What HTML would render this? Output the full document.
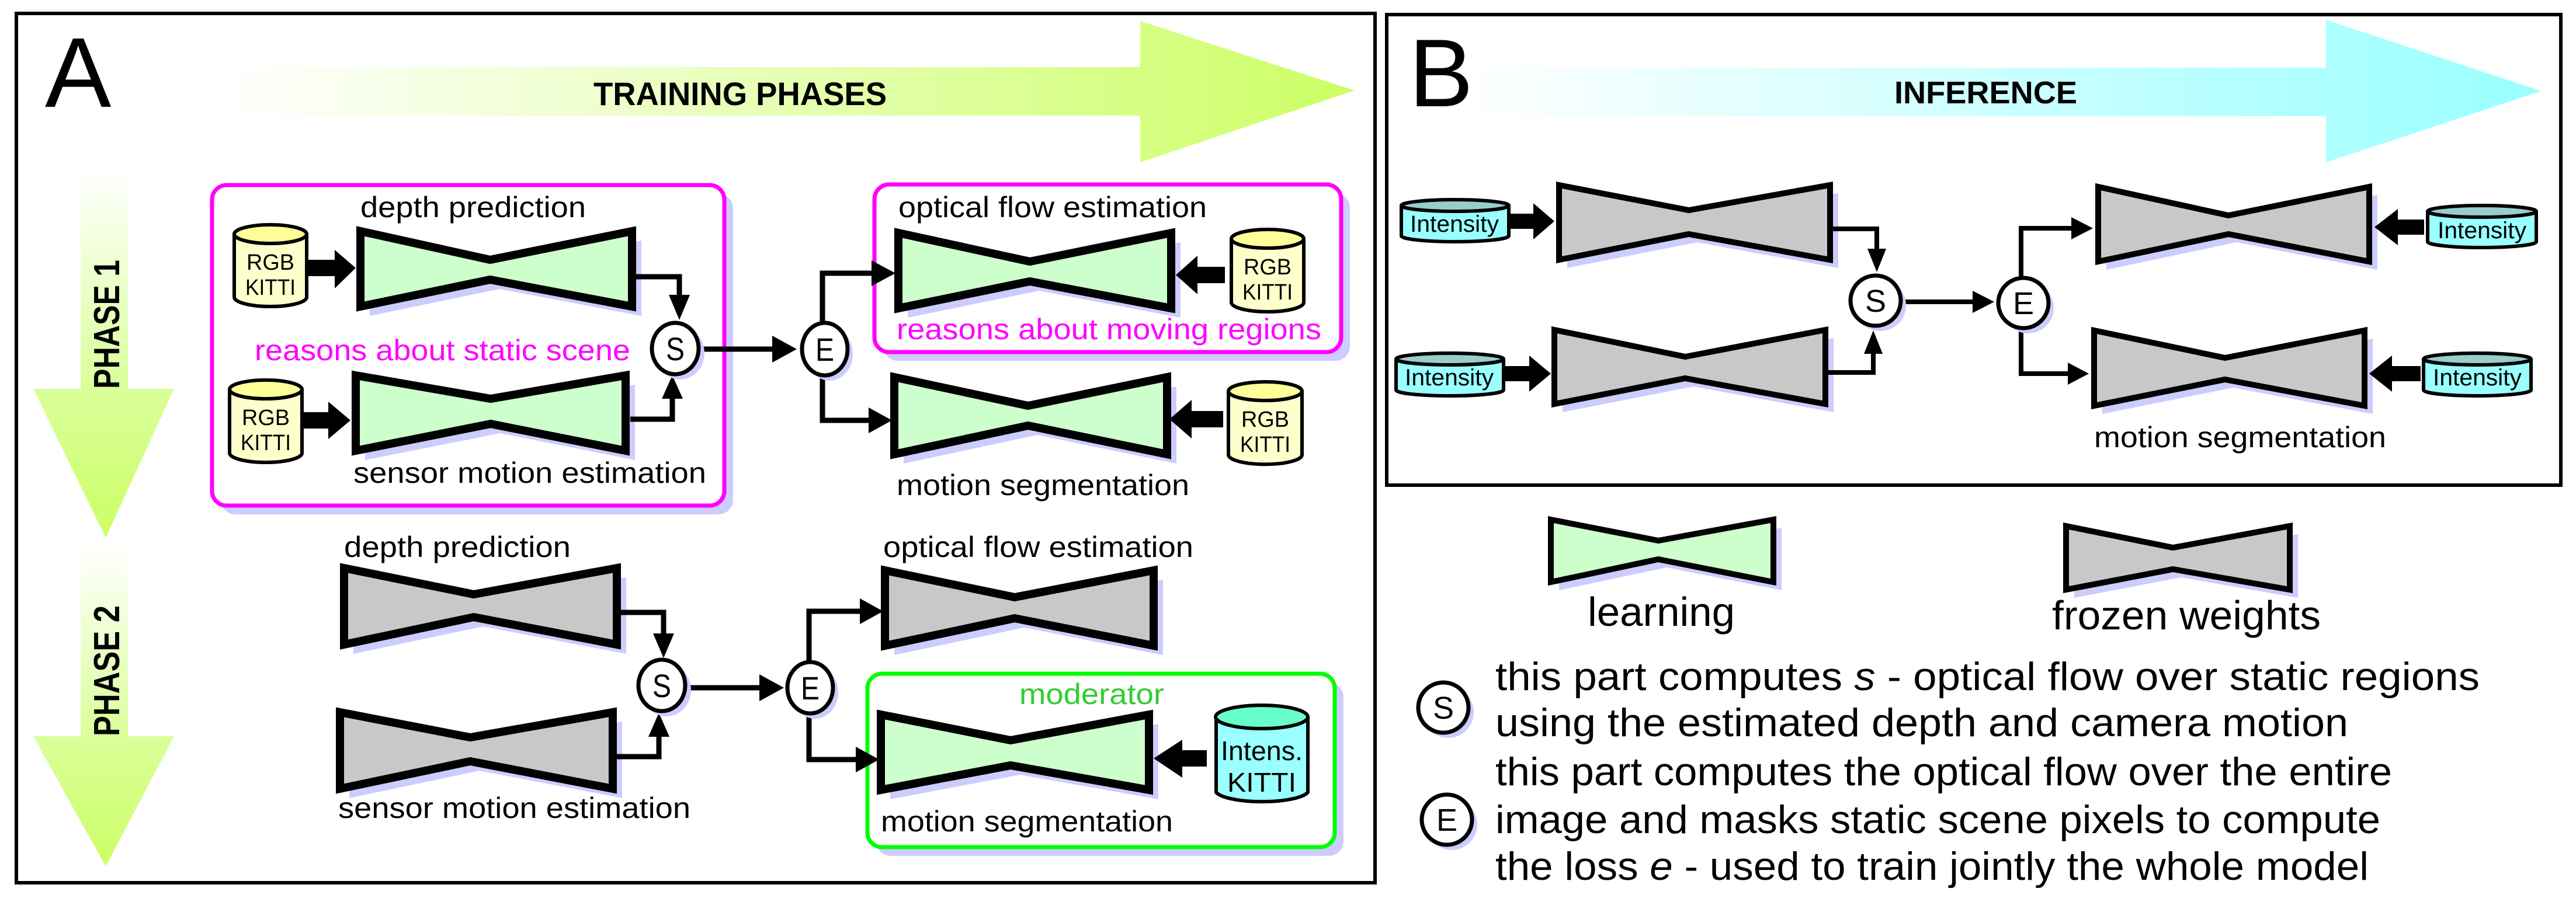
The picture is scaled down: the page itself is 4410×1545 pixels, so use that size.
<!DOCTYPE html>
<html><head><meta charset="utf-8"><style>html,body{margin:0;padding:0;background:#fff}svg{display:block}</style></head>
<body>
<svg xmlns="http://www.w3.org/2000/svg" width="4410" height="1545" viewBox="0 0 4410 1545" font-family="Liberation Sans, sans-serif">
<defs>
<linearGradient id="gT" gradientUnits="userSpaceOnUse" x1="380" y1="0" x2="2320" y2="0"><stop offset="0" stop-color="#ffffff"/><stop offset="1" stop-color="#ccff66"/></linearGradient>
<linearGradient id="gP1" gradientUnits="userSpaceOnUse" x1="0" y1="287" x2="0" y2="921"><stop offset="0" stop-color="#ffffff"/><stop offset="0.6" stop-color="#d9ff99"/><stop offset="1" stop-color="#ccff66"/></linearGradient>
<linearGradient id="gP2" gradientUnits="userSpaceOnUse" x1="0" y1="933" x2="0" y2="1484"><stop offset="0" stop-color="#ffffff"/><stop offset="0.6" stop-color="#d9ff99"/><stop offset="1" stop-color="#ccff66"/></linearGradient>
<linearGradient id="gI" gradientUnits="userSpaceOnUse" x1="2500" y1="0" x2="4350" y2="0"><stop offset="0" stop-color="#ffffff"/><stop offset="1" stop-color="#99ffff"/></linearGradient>
</defs>
<rect width="4410" height="1545" fill="#fff"/>

<!-- Panel A -->
<rect x="28" y="23" width="2326" height="1489" fill="none" stroke="#000" stroke-width="6"/>
<text x="77" y="183" font-size="170">A</text>
<polygon points="383,115 1952,115 1952,36 2319,155 1952,278 1952,198 383,198" fill="url(#gT)"/>
<text x="1016" y="180" font-size="56" font-weight="bold" textLength="502" lengthAdjust="spacingAndGlyphs">TRAINING PHASES</text>
<polygon points="138,287 219,287 219,666 298,666 181,921 57,666 138,666" fill="url(#gP1)"/>
<polygon points="138,933 219,933 219,1261 298,1261 181,1484 57,1261 138,1261" fill="url(#gP2)"/>
<text transform="translate(204,666) rotate(-90)" font-size="62" font-weight="bold" textLength="221" lengthAdjust="spacingAndGlyphs">PHASE 1</text>
<text transform="translate(204,1261) rotate(-90)" font-size="62" font-weight="bold" textLength="224" lengthAdjust="spacingAndGlyphs">PHASE 2</text>

<!-- boxes -->
<rect x="378" y="332" width="877" height="549" rx="25" fill="#ccccff"/>
<rect x="363" y="317" width="877" height="549" rx="25" fill="#fff" stroke="#ff00ff" stroke-width="7"/>
<rect x="1512" y="331" width="799" height="287" rx="25" fill="#ccccff"/>
<rect x="1497" y="316" width="799" height="287" rx="25" fill="#fff" stroke="#ff00ff" stroke-width="7"/>
<rect x="1500" y="1169" width="800" height="297" rx="25" fill="#ccccff"/>
<rect x="1485" y="1154" width="800" height="297" rx="25" fill="#fff" stroke="#00ff00" stroke-width="7"/>

<!-- A bowties -->
<g stroke-linejoin="miter">
<polygon points="633,412 855,461 1098,412 1098,541 855,495 633,541" fill="#ccccff"/>
<polygon points="617,396 839,445 1082,396 1082,525 839,479 617,525" fill="#ccffcc" stroke="#000" stroke-width="14"/>
<polygon points="625,659 856,699 1087,659 1087,788 856,742 625,788" fill="#ccccff"/>
<polygon points="609,643 840,683 1071,643 1071,772 840,726 609,772" fill="#ccffcc" stroke="#000" stroke-width="14"/>
<polygon points="1554,415 1779,464 2021,415 2021,544 1779,498 1554,544" fill="#ccccff"/>
<polygon points="1538,399 1763,448 2005,399 2005,528 1763,482 1538,528" fill="#ccffcc" stroke="#000" stroke-width="14"/>
<polygon points="1547,662 1776,711 2014,662 2014,794 1776,745 1547,794" fill="#ccccff"/>
<polygon points="1531,646 1760,695 1998,646 1998,778 1760,729 1531,778" fill="#ccffcc" stroke="#000" stroke-width="14"/>
<polygon points="605,989 827,1034 1072,989 1072,1120 827,1073 605,1120" fill="#ccccff"/>
<polygon points="589,973 811,1018 1056,973 1056,1104 811,1057 589,1104" fill="#c8c8c8" stroke="#000" stroke-width="14"/>
<polygon points="598,1236 821,1279 1065,1236 1065,1367 821,1320 598,1367" fill="#ccccff"/>
<polygon points="582,1220 805,1263 1049,1220 1049,1351 805,1304 582,1351" fill="#c8c8c8" stroke="#000" stroke-width="14"/>
<polygon points="1531,993 1753,1039 1991,993 1991,1122 1753,1075 1531,1122" fill="#ccccff"/>
<polygon points="1515,977 1737,1023 1975,977 1975,1106 1737,1059 1515,1106" fill="#c8c8c8" stroke="#000" stroke-width="14"/>
<polygon points="1524,1240 1746,1284 1983,1240 1983,1369 1746,1327 1524,1369" fill="#ccccff"/>
<polygon points="1508,1224 1730,1268 1967,1224 1967,1353 1730,1311 1508,1353" fill="#ccffcc" stroke="#000" stroke-width="14"/>
</g>

<!-- cylinders A -->
<g stroke="#000" stroke-width="6">
<path d="M401,401 V509 A62,16 0 0 0 525,509 V401" fill="#ffffcc"/><ellipse cx="463" cy="401" rx="62" ry="16" fill="#ffff99"/>
<path d="M393,667 V776 A62,16 0 0 0 517,776 V667" fill="#ffffcc"/><ellipse cx="455" cy="667" rx="62" ry="16" fill="#ffff99"/>
<path d="M2108,409 V518 A62,16 0 0 0 2232,518 V409" fill="#ffffcc"/><ellipse cx="2170" cy="409" rx="62" ry="16" fill="#ffff99"/>
<path d="M2103,670 V779 A62,16 0 0 0 2229,779 V670" fill="#ffffcc"/><ellipse cx="2166" cy="670" rx="63" ry="16" fill="#ffff99"/>
<path d="M2082,1228 V1357 A80,20 0 0 0 2239,1357 V1228" fill="#99ffff"/><ellipse cx="2160" cy="1228" rx="79" ry="20" fill="#66ffcc"/>
</g>
<g font-size="38" text-anchor="middle">
<text x="463" y="462" textLength="82" lengthAdjust="spacingAndGlyphs">RGB</text><text x="463" y="505" textLength="86" lengthAdjust="spacingAndGlyphs">KITTI</text>
<text x="455" y="728" textLength="82" lengthAdjust="spacingAndGlyphs">RGB</text><text x="455" y="771" textLength="86" lengthAdjust="spacingAndGlyphs">KITTI</text>
<text x="2170" y="470" textLength="82" lengthAdjust="spacingAndGlyphs">RGB</text><text x="2170" y="513" textLength="86" lengthAdjust="spacingAndGlyphs">KITTI</text>
<text x="2166" y="731" textLength="82" lengthAdjust="spacingAndGlyphs">RGB</text><text x="2166" y="774" textLength="86" lengthAdjust="spacingAndGlyphs">KITTI</text>
<text x="2160" y="1302" font-size="46" textLength="140" lengthAdjust="spacingAndGlyphs">Intens.</text><text x="2160" y="1356" font-size="46" textLength="118" lengthAdjust="spacingAndGlyphs">KITTI</text>
</g>

<!-- thick arrows A -->
<g fill="#000">
<polygon points="528,445 573,445 573,428 609,459 573,494 573,473 528,473"/>
<polygon points="520,706 562,706 562,688 600,720 562,752 562,734 520,734"/>
<polygon points="2097,457 2050,457 2050,438 2013,471 2050,504 2050,485 2097,485"/>
<polygon points="2094,704 2040,704 2040,685 2002,718 2040,751 2040,732 2094,732"/>
<polygon points="2066,1285 2024,1285 2024,1267 1975,1299 2024,1332 2024,1313 2066,1313"/>
</g>

<!-- connectors A -->
<g fill="none" stroke="#000" stroke-width="9">
<path d="M1082,474 H1163 V510"/><path d="M1079,718 H1151 V683"/><path d="M1200,598 H1325"/>
<path d="M1408,552 V468 H1495"/><path d="M1408,645 V720 H1490"/>
<path d="M1056,1049 H1136 V1085"/><path d="M1049,1296 H1128 V1262"/><path d="M1180,1178 H1305"/>
<path d="M1385,1133 V1047 H1475"/><path d="M1385,1223 V1301 H1468"/>
</g>
<g fill="#000">
<polygon points="1145,505 1181,505 1163,548"/><polygon points="1133,683 1169,683 1151,643"/>
<polygon points="1322,575 1322,621 1364,598"/><polygon points="1492,446 1492,490 1533,468"/>
<polygon points="1487,698 1487,742 1527,720"/>
<polygon points="1118,1085 1154,1085 1136,1127"/><polygon points="1110,1262 1146,1262 1128,1221"/>
<polygon points="1300,1155 1300,1201 1342,1178"/><polygon points="1472,1025 1472,1069 1512,1047"/>
<polygon points="1465,1279 1465,1323 1505,1301"/>
</g>
<!-- S/E circles A -->
<g stroke-width="7">
<ellipse cx="1164" cy="605" rx="42" ry="45" fill="#ccccff"/><ellipse cx="1156" cy="597" rx="40" ry="44" fill="#fff" stroke="#000"/>
<ellipse cx="1420" cy="606" rx="40" ry="46" fill="#ccccff"/><ellipse cx="1412" cy="598" rx="39" ry="45" fill="#fff" stroke="#000"/>
<ellipse cx="1141" cy="1182" rx="42" ry="45" fill="#ccccff"/><ellipse cx="1133" cy="1174" rx="40" ry="44" fill="#fff" stroke="#000"/>
<ellipse cx="1395" cy="1186" rx="40" ry="45" fill="#ccccff"/><ellipse cx="1387" cy="1178" rx="39" ry="44" fill="#fff" stroke="#000"/>
</g>
<g font-size="56" text-anchor="middle">
<text x="1156" y="617" textLength="32" lengthAdjust="spacingAndGlyphs">S</text><text x="1412" y="618" textLength="32" lengthAdjust="spacingAndGlyphs">E</text>
<text x="1133" y="1194" textLength="32" lengthAdjust="spacingAndGlyphs">S</text><text x="1387" y="1198" textLength="32" lengthAdjust="spacingAndGlyphs">E</text>
</g>

<!-- labels A -->
<g font-size="50" lengthAdjust="spacingAndGlyphs">
<text x="617" y="372" textLength="386" lengthAdjust="spacingAndGlyphs">depth prediction</text>
<text x="605" y="827" textLength="604" lengthAdjust="spacingAndGlyphs">sensor motion estimation</text>
<text x="436" y="617" fill="#ff00ff" textLength="643" lengthAdjust="spacingAndGlyphs">reasons about static scene</text>
<text x="1538" y="372" textLength="528" lengthAdjust="spacingAndGlyphs">optical flow estimation</text>
<text x="1535" y="581" fill="#ff00ff" textLength="727" lengthAdjust="spacingAndGlyphs">reasons about moving regions</text>
<text x="1535" y="848" textLength="501" lengthAdjust="spacingAndGlyphs">motion segmentation</text>
<text x="589" y="954" textLength="388" lengthAdjust="spacingAndGlyphs">depth prediction</text>
<text x="1512" y="954" textLength="531" lengthAdjust="spacingAndGlyphs">optical flow estimation</text>
<text x="579" y="1401" textLength="603" lengthAdjust="spacingAndGlyphs">sensor motion estimation</text>
<text x="1745" y="1206" fill="#33cc33" textLength="248" lengthAdjust="spacingAndGlyphs">moderator</text>
<text x="1508" y="1424" textLength="500" lengthAdjust="spacingAndGlyphs">motion segmentation</text>
</g>

<!-- Panel B -->
<rect x="2374" y="25" width="2010" height="806" fill="none" stroke="#000" stroke-width="6"/>
<polygon points="2508,116 3982,116 3982,34 4350,156 3982,278 3982,199 2508,199" fill="url(#gI)"/>
<text x="2412" y="182" font-size="165">B</text>
<text x="3243" y="177" font-size="54" font-weight="bold" textLength="313" lengthAdjust="spacingAndGlyphs">INFERENCE</text>

<g>
<polygon points="2683,331 2905,374 3147,331 3147,459 2905,415 2683,459" fill="#ccccff"/>
<polygon points="2669,317 2891,360 3133,317 3133,445 2891,401 2669,445" fill="#c8c8c8" stroke="#000" stroke-width="10"/>
<polygon points="2675,579 2899,625 3139,579 3139,706 2899,662 2675,706" fill="#ccccff"/>
<polygon points="2661,565 2885,611 3125,565 3125,692 2885,648 2661,692" fill="#c8c8c8" stroke="#000" stroke-width="10"/>
<polygon points="3606,334 3829,383 4070,334 4070,462 3829,415 3606,462" fill="#ccccff"/>
<polygon points="3592,320 3815,369 4056,320 4056,448 3815,401 3592,448" fill="#c8c8c8" stroke="#000" stroke-width="10"/>
<polygon points="3599,580 3823,627 4062,580 4062,709 3823,664 3599,709" fill="#ccccff"/>
<polygon points="3585,566 3809,613 4048,566 4048,695 3809,650 3585,695" fill="#c8c8c8" stroke="#000" stroke-width="10"/>
<polygon points="2669,904 2853,940 3050,904 3050,1011 2853,972 2669,1011" fill="#ccccff"/>
<polygon points="2655,890 2839,926 3036,890 3036,997 2839,958 2655,997" fill="#ccffcc" stroke="#000" stroke-width="10"/>
<polygon points="3551,915 3734,952 3934,915 3934,1024 3734,989 3551,1024" fill="#ccccff"/>
<polygon points="3537,901 3720,938 3920,901 3920,1010 3720,975 3537,1010" fill="#c8c8c8" stroke="#000" stroke-width="10"/>
</g>
<g stroke="#000" stroke-width="6">
<path d="M2399,352 V404 A92,10 0 0 0 2583,404 V352" fill="#99ffff"/><ellipse cx="2491" cy="352" rx="92" ry="10" fill="#99cccc"/>
<path d="M2390,615 V668 A92,10 0 0 0 2574,668 V615" fill="#99ffff"/><ellipse cx="2482" cy="615" rx="92" ry="10" fill="#99cccc"/>
<path d="M4156,362 V414 A93,10 0 0 0 4342,414 V362" fill="#99ffff"/><ellipse cx="4249" cy="362" rx="93" ry="10" fill="#99cccc"/>
<path d="M4149,615 V668 A92,10 0 0 0 4333,668 V615" fill="#99ffff"/><ellipse cx="4241" cy="615" rx="92" ry="10" fill="#99cccc"/>
</g>
<g font-size="40" text-anchor="middle">
<text x="2490" y="397" textLength="152" lengthAdjust="spacingAndGlyphs">Intensity</text>
<text x="2481" y="660" textLength="152" lengthAdjust="spacingAndGlyphs">Intensity</text>
<text x="4249" y="408" textLength="152" lengthAdjust="spacingAndGlyphs">Intensity</text>
<text x="4241" y="660" textLength="152" lengthAdjust="spacingAndGlyphs">Intensity</text>
</g>
<g fill="#000">
<polygon points="2584,366 2625,366 2625,348 2661,379 2625,410 2625,392 2584,392"/>
<polygon points="2576,627 2618,627 2618,609 2655,640 2618,671 2618,653 2576,653"/>
<polygon points="4150,376 4105,376 4105,358 4065,389 4105,420 4105,402 4150,402"/>
<polygon points="4144,627 4095,627 4095,609 4056,640 4095,671 4095,653 4144,653"/>
</g>
<g fill="none" stroke="#000" stroke-width="8">
<path d="M3133,392 H3213 V430"/><path d="M3128,638 H3207 V602"/><path d="M3258,517 H3380"/>
<path d="M3460,473 V391 H3550"/><path d="M3460,565 V640 H3543"/>
</g>
<g fill="#000">
<polygon points="3197,426 3229,426 3213,466"/><polygon points="3191,606 3223,606 3207,566"/>
<polygon points="3377,498 3377,536 3414,517"/><polygon points="3546,372 3546,410 3583,391"/>
<polygon points="3540,621 3540,659 3576,640"/>
</g>
<g stroke-width="7">
<circle cx="3219" cy="523" r="44" fill="#ccccff"/><circle cx="3211" cy="515" r="43" fill="#fff" stroke="#000"/>
<circle cx="3472" cy="527" r="44" fill="#ccccff"/><circle cx="3464" cy="519" r="43" fill="#fff" stroke="#000"/>
<circle cx="2479" cy="1220" r="44" fill="#ccccff"/><circle cx="2471" cy="1212" r="43" fill="#fff" stroke="#000"/>
<circle cx="2485" cy="1412" r="44" fill="#ccccff"/><circle cx="2477" cy="1404" r="43" fill="#fff" stroke="#000"/>
</g>
<g font-size="54" text-anchor="middle">
<text x="3211" y="534">S</text><text x="3464" y="538">E</text>
<text x="2471" y="1231">S</text><text x="2477" y="1423">E</text>
</g>
<text x="3585" y="766" font-size="50" textLength="500" lengthAdjust="spacingAndGlyphs">motion segmentation</text>
<text x="2718" y="1072" font-size="70" textLength="252" lengthAdjust="spacingAndGlyphs">learning</text>
<text x="3513" y="1078" font-size="70" textLength="460" lengthAdjust="spacingAndGlyphs">frozen weights</text>
<g font-size="68" lengthAdjust="spacingAndGlyphs">
<text x="2560" y="1182" textLength="1685" lengthAdjust="spacingAndGlyphs">this part computes <tspan font-style="italic">s</tspan> - optical  flow over static regions</text>
<text x="2560" y="1261" textLength="1460" lengthAdjust="spacingAndGlyphs">using the estimated depth and camera motion</text>
<text x="2560" y="1345" textLength="1535" lengthAdjust="spacingAndGlyphs">this part computes the optical flow over the entire</text>
<text x="2560" y="1427" textLength="1515" lengthAdjust="spacingAndGlyphs">image and masks static scene pixels to compute</text>
<text x="2560" y="1507" textLength="1495" lengthAdjust="spacingAndGlyphs">the loss <tspan font-style="italic">e</tspan> - used to train jointly the whole model</text>
</g>
</svg>
</body></html>
